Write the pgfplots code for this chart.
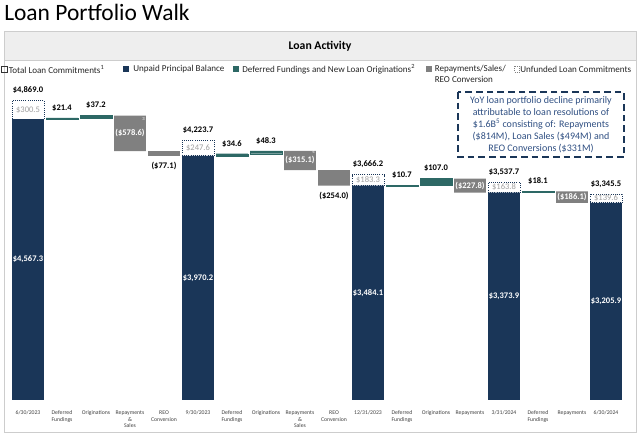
\documentclass[border=0pt]{standalone}
\usepackage{pgfplots}
\pgfplotsset{compat=1.18}
\usepackage{fontspec}
\setmainfont{Carlito}

\definecolor{navy}{RGB}{26,54,88}
\definecolor{tealb}{RGB}{45,104,101}
\definecolor{grayb}{RGB}{128,128,128}
\definecolor{boxtxt}{RGB}{160,160,160}
\definecolor{note}{RGB}{47,79,130}
\definecolor{strip}{RGB}{238,238,238}
\definecolor{framec}{RGB}{205,205,205}
\definecolor{ticktxt}{RGB}{64,64,64}

% shared geometry of the overlaid axes (1px = 0.75pt)
\pgfplotsset{
  walk/.style={
    at={(8.25pt,-300pt)}, anchor=south west,
    scale only axis, width=459pt, height=230.6pt,
    xmin=-0.5, xmax=17.5, ymin=0, ymax=5000,
    axis line style={draw=none}, major tick length=0pt,
    xtick=\empty, ytick=\empty, clip=false,
  },
  lbl/.style={draw=none, nodes near coords, point meta=explicit symbolic},
}

\begin{document}
\begin{tikzpicture}
\path[use as bounding box] (0,0) rectangle (480pt,-328.5pt);

\begin{scope}[x=0.75pt,y=-0.75pt]
  % title and panel
  \node[anchor=base west, inner sep=0pt, font=\fontsize{17.6}{20}\selectfont] at (4,21) {Loan Portfolio Walk};
  \fill[strip] (4,32) rectangle (636,60);
  \draw[framec, line width=0.75pt] (4,32) rectangle (636,433);
  \draw[framec, line width=0.5pt] (4,60) -- (636,60);
  \node[font=\bfseries\fontsize{8.8}{10}\selectfont] at (320,46) {Loan Activity};

  % legend
  \begin{scope}[font=\fontsize{6.8}{8}\selectfont, text=black!85]
    \draw[black!80, line width=0.5pt] (1.5,66.5) rectangle (7,72);
    \node[anchor=west, inner sep=0pt] at (8.5,69.5) {Total Loan Commitments\textsuperscript{1}};
    \fill[navy] (123,66.5) rectangle (128.5,72);
    \node[anchor=west, inner sep=0pt] at (133,69.5) {Unpaid Principal Balance};
    \fill[tealb] (233,66.5) rectangle (238.5,72);
    \node[anchor=west, inner sep=0pt] at (242,69.5) {Deferred Fundings and New Loan Originations\textsuperscript{2}};
    \fill[grayb] (426,66.5) rectangle (431.5,72);
    \node[anchor=west, inner sep=0pt] at (434.5,69.5) {Repayments/Sales/};
    \node[anchor=west, inner sep=0pt] at (434.5,79.5) {REO Conversion};
    \draw[grayb, densely dotted, line width=0.5pt] (514,66.5) rectangle (519.5,72);
    \node[anchor=west, inner sep=0pt] at (520,69.5) {Unfunded Loan Commitments};
  \end{scope}

  % note box
  \draw[navy, line width=1.1pt, dash pattern=on 5pt off 3pt] (458,92) rectangle (624,157);
  \node[align=center, text=note, font=\fontsize{7.5}{9}\selectfont, inner sep=0pt] at (541,124.5)
    {YoY loan portfolio decline primarily\\attributable to loan resolutions of\\
     \$1.6B\textsuperscript{5} consisting of: Repayments\\(\$814M), Loan Sales (\$494M) and\\
     REO Conversions (\$331M)};
\end{scope}

% balances and unfunded commitments
\begin{axis}[walk, ybar stacked, bar width=0.94,
  xtick={0,...,17},
  xticklabels={6/30/2023, Deferred\\Fundings, Originations, Repayments\\\&\\Sales, REO\\Conversion,
               9/30/2023, Deferred\\Fundings, Originations, Repayments\\\&\\Sales, REO\\Conversion,
               12/31/2023, Deferred\\Fundings, Originations, Repayments,
               3/31/2024, Deferred\\Fundings, Repayments, 6/30/2024},
  xticklabel style={font=\fontsize{4.3}{5}\selectfont, text=ticktxt, align=center, anchor=north, yshift=-4.5pt}]
\addplot[fill=navy, draw=none] coordinates {(0,4567.3) (5,3970.2) (10,3484.1) (14,3373.9) (17,3205.9)};
\addplot[fill=white, draw=navy, densely dotted, line width=0.6pt] coordinates {(0,301.7) (5,253.5) (10,182.1) (14,163.8) (17,139.6)};
\end{axis}

% fundings and originations
\begin{axis}[walk, ybar stacked, bar width=0.94]
\addplot[fill=none, draw=none] coordinates {(1,4567.3) (2,4588.7) (6,3970.2) (7,4004.8) (11,3484.1) (12,3494.8) (15,3373.9)};
\addplot[fill=tealb, draw=tealb, line width=0.3pt] coordinates {(1,21.4) (2,37.2) (6,34.6) (7,48.3) (11,10.7) (12,107.0) (15,18.1)};
\end{axis}

% repayments, sales and REO conversions
\begin{axis}[walk, ybar stacked, bar width=0.94]
\addplot[fill=none, draw=none] coordinates {(3,4047.3) (4,3970.2) (8,3738.0) (9,3484.1) (13,3373.9) (16,3205.9)};
\addplot[fill=grayb, draw=none] coordinates {(3,578.6) (4,77.1) (8,315.1) (9,254.0) (13,227.8) (16,186.1)};
\end{axis}

% value labels
\begin{axis}[walk]
\addplot[lbl, nodes near coords style={anchor=south, yshift=1.5pt, font=\bfseries\fontsize{6.4}{7}\selectfont, text=black}]
  coordinates {(0,4869.0)[\$4,869.0] (1,4588.7)[\$21.4] (2,4625.9)[\$37.2] (5,4223.7)[\$4,223.7]
               (6,4004.8)[\$34.6] (7,4053.1)[\$48.3] (10,3666.2)[\$3,666.2] (11,3494.8)[\$10.7]
               (12,3601.8)[\$107.0] (14,3537.7)[\$3,537.7] (15,3392.0)[\$18.1] (17,3345.5)[\$3,345.5]};
\addplot[lbl, nodes near coords style={anchor=north, yshift=-1pt, font=\bfseries\fontsize{6.4}{7}\selectfont, text=black}]
  coordinates {(4,3970.2)[(\$77.1)] (9,3484.1)[(\$254.0)]};
\addplot[lbl, nodes near coords style={anchor=center, fill=grayb, inner sep=0.6pt, font=\bfseries\fontsize{6.4}{7}\selectfont, text=white}]
  coordinates {(3,4336.6)[(\$578.6)] (8,3895.6)[(\$315.1)] (13,3487.8)[(\$227.8)] (16,3299.0)[(\$186.1)]};
\addplot[lbl, nodes near coords style={anchor=center, font=\bfseries\fontsize{6.4}{7}\selectfont, text=white}]
  coordinates {(0,2283.7)[\$4,567.3] (5,1985.1)[\$3,970.2] (10,1742.1)[\$3,484.1] (14,1687.0)[\$3,373.9] (17,1603.0)[\$3,205.9]};
\addplot[lbl, nodes near coords style={anchor=center, font=\fontsize{6.4}{7}\selectfont, text=boxtxt}]
  coordinates {(0,4718.2)[\$300.5] (5,4097.0)[\$247.6] (10,3575.2)[\$183.3] (14,3455.8)[\$163.8] (17,3275.7)[\$139.6]};
\addplot[lbl, nodes near coords style={anchor=center, font=\fontsize{3.5}{4}\selectfont, text=white}]
  coordinates {(3.4,4570)[3] (8.4,4030)[4]};
\end{axis}
\end{tikzpicture}
\end{document}
